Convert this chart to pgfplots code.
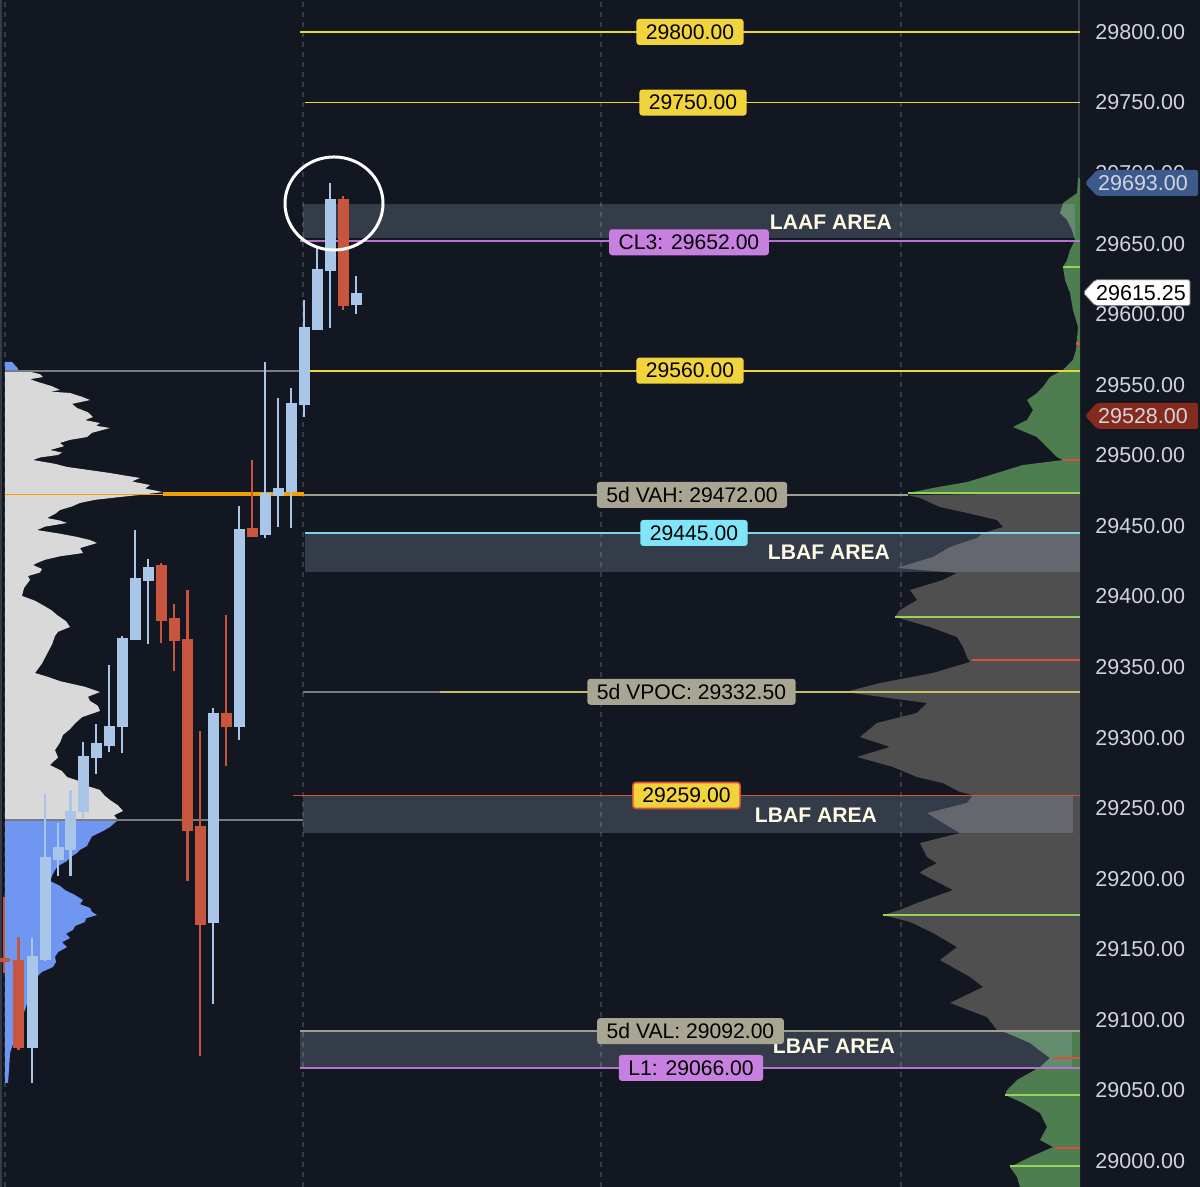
\documentclass[border=0pt]{standalone}
\usepackage{fontspec}
\setmainfont{Liberation Sans}
\usepackage{pgfplots}
\pgfplotsset{compat=1.18}
\definecolor{bg}{HTML}{131722}
\definecolor{gridc}{HTML}{363A45}
\definecolor{cblue}{HTML}{A9C5E8}
\definecolor{cred}{HTML}{C8553D}
\definecolor{lgray}{HTML}{D9D9D9}
\definecolor{lblue}{HTML}{6F97F2}
\definecolor{rgreen}{HTML}{4E7D50}
\definecolor{rgray}{HTML}{4F4F4F}
\definecolor{areac}{HTML}{B0C0D8}
\definecolor{ylw}{HTML}{F1D43B}
\definecolor{vio}{HTML}{C880E0}
\definecolor{viol}{HTML}{B673D0}
\definecolor{khaki}{HTML}{A8A693}
\definecolor{khakil}{HTML}{A09E90}
\definecolor{cyanb}{HTML}{80E5F8}
\definecolor{cyanl}{HTML}{7ED4E6}
\definecolor{glin}{HTML}{95D35A}
\definecolor{rlin}{HTML}{D9503A}
\definecolor{orng}{HTML}{F0A000}
\definecolor{slate}{HTML}{787B86}
\definecolor{cream}{HTML}{FFFBE4}
\definecolor{ticktxt}{HTML}{D1D4DC}
\definecolor{tagblue}{HTML}{3D5A8C}
\definecolor{tagred}{HTML}{842B1D}
\definecolor{vpocl}{HTML}{C8BC6A}
\newcommand{\lblfont}{\fontsize{10.6}{12}\selectfont}
\newcommand{\areafont}{\fontsize{10.6}{12}\selectfont\bfseries}
\newcommand{\candle}[6]{%
  \addplot[#6, line width=1.2bp, line cap=butt, forget plot] coordinates {(#1,#4) (#1,#3)};%
  \addplot[#6, line width=5.5bp, line cap=butt, forget plot] coordinates {(#1,#2) (#1,#5)};%
}
\begin{document}
\begin{tikzpicture}
\fill[bg] (0,0) rectangle (600bp,593.5bp);
\begin{axis}[
  at={(0,0)}, anchor=south west, scale only axis,
  width=540bp, height=593.5bp,
  xmin=0, xmax=1080, ymin=28981.58, ymax=29822.68,
  axis line style={draw=none}, major tick length=0pt,
  xtick=\empty, scaled y ticks=false, scaled x ticks=false,
  ytick={29000,29050,29100,29150,29200,29250,29300,29350,29400,29450,29500,29550,29600,29650,29700,29750,29800},
  yticklabels={29000.00,29050.00,29100.00,29150.00,29200.00,29250.00,29300.00,29350.00,29400.00,29450.00,29500.00,29550.00,29600.00,29650.00,29700.00,29750.00,29800.00},
  yticklabel pos=right,
  yticklabel style={anchor=west, xshift=7.5bp, inner sep=0pt, text=ticktxt, font=\fontsize{10.8}{12}\selectfont},
]
% grid
\addplot[gridc, line width=0.6bp, dash pattern=on 2.5bp off 2.5bp] coordinates {(5,28981.58) (5,29822.68)};
\addplot[gridc, line width=0.6bp, dash pattern=on 2.5bp off 2.5bp] coordinates {(303,28981.58) (303,29822.68)};
\addplot[gridc, line width=0.6bp, dash pattern=on 2.5bp off 2.5bp] coordinates {(601,28981.58) (601,29822.68)};
\addplot[gridc, line width=0.6bp, dash pattern=on 2.5bp off 2.5bp] coordinates {(901,28981.58) (901,29822.68)};
\addplot[gridc, line width=1bp] coordinates {(1,28981.58) (1,29822.68)};
\addplot[gridc, line width=1bp] coordinates {(1079,28981.58) (1079,29822.68)};
% left profile
\addplot[fill=lblue, draw=none] coordinates {(5,29566.2) (12,29566.2) (18,29561.5) (18,29559.8) (5,29559.8)};
\addplot[fill=lgray, draw=none] coordinates {(5,29559.8) (27,29559.8) (40,29557.5) (43,29555.5) (30,29554) (38,29552.0) (52,29549) (60,29546.3) (50,29545.2) (70,29544.2) (82,29541.5) (90,29539.2) (72,29536.5) (77,29533.6) (88,29530.5) (93,29527.2) (85,29525) (100,29522.9) (96,29521) (110,29519.4) (92,29516) (87,29513.0) (70,29511) (60,29508.8) (64,29506.5) (50,29503.8) (62,29502) (58,29500.3) (40,29498.5) (33,29496.7) (55,29494) (67,29491.8) (90,29489.5) (110,29487.5) (125,29485.7) (140,29484.0) (132,29481.5) (150,29479.0) (145,29476.5) (163,29474.0) (140,29472) (120,29470.5) (95,29468.5) (80,29466.3) (72,29463.8) (60,29461.3) (55,29458.5) (47,29455.6) (60,29453.8) (67,29452.1) (45,29449.5) (37,29447.1) (60,29444.5) (77,29442.2) (90,29440) (97,29437.9) (80,29434.3) (83,29430.8) (60,29428.5) (45,29426) (38,29424) (33,29422.3) (42,29419.5) (40,29417) (28,29414.5) (30,29411.7) (24,29406) (22,29400.4) (35,29397) (45,29393) (52,29390) (57,29386.9) (66,29382.5) (70,29378.4) (58,29375) (55,29372) (52,29366) (47,29359.3) (42,29352.5) (35,29345.8) (48,29343) (60,29340) (85,29336) (100,29332.3) (88,29329) (90,29326) (98,29322.5) (100,29318.9) (82,29314.5) (75,29310) (70,29306) (63,29301.9) (60,29296.5) (55,29291.2) (58,29286) (50,29280.6) (62,29276.3) (67,29272.1) (80,29269) (85,29266) (93,29264.5) (100,29262.9) (104,29259.3) (110,29255.8) (118,29252) (123,29248.0) (114,29245) (118,29241.6) (5,29241.6)};
\addplot[fill=lblue, draw=none] coordinates {(5,29241.6) (118,29241.6) (110,29236.7) (103,29233.8) (92,29230) (90,29227.5) (87,29223.2) (80,29220.5) (77,29218.2) (70,29215) (67,29212.6) (58,29209) (55,29206.2) (52,29202) (50,29198.4) (60,29195) (65,29192.0) (75,29188.5) (83,29184.9) (80,29182) (90,29179.3) (92,29176.5) (97,29174.3) (86,29172) (85,29169.4) (75,29166.5) (73,29163.7) (66,29161) (70,29158.0) (62,29155) (67,29151.6) (58,29148) (55,29144.6) (56,29141) (53,29137.5) (42,29134) (37,29130.4) (36,29126) (33,29121.2) (28,29114) (25,29107.0) (20,29100) (18,29092.8) (14,29085) (10,29076.5) (9,29064.5) (8,29055.3) (5,29055.3)};
% right profile
\addplot[fill=rgreen, draw=none] coordinates {(1080,29696.5) (1078,29696.5) (1077,29685.9) (1063,29678.8) (1060,29671.7) (1067,29666.8) (1072,29659.7) (1075,29652.6) (1070,29645.5) (1067,29638.4) (1063,29633.5) (1065,29624.3) (1070,29615.1) (1073,29603.0) (1078,29591.0) (1076,29575) (1073,29567.6) (1063,29560.5) (1050,29555.5) (1043,29548.5) (1037,29544.2) (1027,29539.2) (1033,29532.2) (1027,29525.1) (1013,29520.1) (1037,29513.0) (1047,29505.9) (1057,29498.8) (1063,29496.7) (1023,29493.2) (997,29487.5) (967,29481.1) (933,29476.9) (908,29473.3) (1080,29473.3)};
\addplot[fill=rgray, draw=none] coordinates {(1080,29473.3) (907,29471.9) (920,29469.8) (940,29463.4) (967,29459.2) (997,29454.2) (1003,29449.2) (983,29445.0) (977,29441.5) (950,29435.1) (933,29428.0) (897,29420.2) (957,29416.7) (943,29411.7) (910,29404.6) (917,29397.5) (900,29390.4) (895,29385.5) (930,29378.4) (957,29371.3) (963,29364.2) (967,29357.1) (970,29353.6) (933,29345.8) (880,29338.7) (845,29332.3) (927,29324.5) (917,29317.5) (877,29310.4) (860,29300.4) (890,29293.4) (857,29286.3) (893,29279.2) (917,29272.1) (943,29267.8) (960,29261.5) (973,29259.3) (967,29253.7) (927,29246.6) (943,29239.5) (960,29232.4) (920,29225.3) (927,29215.4) (937,29211) (923,29206.2) (920,29204.1) (953,29192.0) (917,29182.8) (900,29177.9) (883,29174.3) (910,29169.4) (933,29161.6) (957,29151.6) (940,29142.4) (970,29130.4) (983,29123.3) (950,29112.0) (987,29102.0) (997,29092.8) (1080,29092.8)};
\addplot[fill=rgreen, draw=none] coordinates {(1080,29092.8) (1000,29092.1) (1007,29090.7) (1030,29083.6) (1043,29076.5) (1050,29073.0) (1040,29066.6) (1017,29057.4) (1007,29050.3) (1005,29046.8) (1023,29041.1) (1040,29034.0) (1047,29024.1) (1040,29014.9) (1053,29009.9) (1030,29002.8) (1010,28995.7) (1017,28988.7) (1020,28981.6) (1080,28981.6)};
% area rectangles
\addplot[fill=areac, fill opacity=0.22, draw=none] coordinates {(303,29678.1) (1075,29678.1) (1075,29654.0) (303,29654.0)};
\addplot[fill=areac, fill opacity=0.22, draw=none] coordinates {(305,29445.0) (1080,29445.0) (1080,29417.4) (305,29417.4)};
\addplot[fill=areac, fill opacity=0.22, draw=none] coordinates {(303,29259.3) (1073,29259.3) (1073,29232.4) (303,29232.4)};
\addplot[fill=areac, fill opacity=0.22, draw=none] coordinates {(300,29092.1) (1072,29092.1) (1072,29065.9) (300,29065.9)};
% profile marker lines
\addplot[glin, line width=1bp] coordinates {(1063,29633.5) (1080,29633.5)};
\addplot[glin, line width=1bp] coordinates {(908,29473.3) (1080,29473.3)};
\addplot[glin, line width=1bp] coordinates {(895,29385.5) (1080,29385.5)};
\addplot[glin, line width=1bp] coordinates {(883,29174.3) (1080,29174.3)};
\addplot[glin, line width=1bp] coordinates {(1005,29046.8) (1080,29046.8)};
\addplot[glin, line width=1bp] coordinates {(1010,28996.5) (1080,28996.5)};
\addplot[rlin, line width=1bp] coordinates {(1063,29496.7) (1080,29496.7)};
\addplot[rlin, line width=1bp] coordinates {(972,29355.0) (1080,29355.0)};
\addplot[rlin, line width=1bp] coordinates {(1053,29073.0) (1080,29073.0)};
\addplot[rlin, line width=1bp] coordinates {(1055,29009.2) (1080,29009.2)};
\addplot[rlin, line width=1.5bp] coordinates {(1076,29579.6) (1080,29579.6)};
% level lines
\addplot[ylw, line width=0.9bp] coordinates {(300,29800) (1080,29800)};
\addplot[ylw, line width=0.9bp] coordinates {(305,29750) (1080,29750)};
\addplot[viol, line width=0.9bp] coordinates {(300,29652) (1080,29652)};
\addplot[slate, line width=0.8bp] coordinates {(5,29559.8) (303,29559.8)};
\addplot[ylw, line width=0.9bp] coordinates {(303,29560) (1080,29560)};
\addplot[orng, line width=0.6bp] coordinates {(5,29472.5) (163,29472.5)};
\addplot[orng, line width=1.8bp] coordinates {(163,29472.5) (304,29472.5)};
\addplot[khakil, line width=0.9bp] coordinates {(304,29472) (908,29472)};
\addplot[cyanl, line width=0.9bp] coordinates {(305,29445) (1080,29445)};
\addplot[slate, line width=0.9bp] coordinates {(303,29332.5) (440,29332.5)};
\addplot[vpocl, line width=0.9bp] coordinates {(440,29332.5) (1080,29332.5)};
\addplot[rlin, line width=0.9bp] coordinates {(293,29259) (1080,29259)};
\addplot[slate, line width=0.8bp] coordinates {(5,29241.6) (303,29241.6)};
\addplot[khakil, line width=0.9bp] coordinates {(300,29092) (1080,29092)};
\addplot[viol, line width=0.9bp] coordinates {(300,29066) (1080,29066)};
% candles: x, open, high, low, close, colour
\candle{4}{29143.8}{29187.1}{29133.2}{29141.0}{cred}
\candle{18.5}{29142.4}{29158.7}{29078.7}{29080.1}{cred}
\candle{32}{29080.1}{29158.0}{29055.3}{29145.3}{cblue}
\candle{45}{29142.4}{29260.1}{29141.7}{29215.4}{cblue}
\candle{58}{29213.3}{29239.5}{29202.0}{29222.5}{cblue}
\candle{70.5}{29220.4}{29262.9}{29202.0}{29248.0}{cblue}
\candle{83}{29247.3}{29296.9}{29243.0}{29287.0}{cblue}
\candle{96}{29285.6}{29309.7}{29274.2}{29296.2}{cblue}
\candle{109}{29294.1}{29351.5}{29289.8}{29308.2}{cblue}
\candle{122}{29307.5}{29372.0}{29289.1}{29370.6}{cblue}
\candle{135}{29369.2}{29447.1}{29369.0}{29413.1}{cblue}
\candle{148}{29411.0}{29426.6}{29366.3}{29420.9}{cblue}
\candle{161}{29422.3}{29423.7}{29367.1}{29382.6}{cred}
\candle{174}{29384.8}{29394.7}{29347.2}{29368.5}{cred}
\candle{187.5}{29369.9}{29404.6}{29198.4}{29233.8}{cred}
\candle{200}{29237.4}{29304.7}{29074.4}{29167.2}{cred}
\candle{213}{29168.6}{29321.0}{29111.3}{29317.5}{cblue}
\candle{226}{29317.5}{29386.9}{29279.9}{29307.5}{cred}
\candle{239}{29307.5}{29464.1}{29298.3}{29447.8}{cblue}
\candle{252}{29448.5}{29496.7}{29442.2}{29442.2}{cred}
\candle{265}{29443.6}{29566.2}{29441.5}{29473.3}{cblue}
\candle{278}{29471.2}{29540.7}{29449.2}{29476.9}{cblue}
\candle{291}{29474.0}{29547.7}{29448.5}{29537.1}{cblue}
\candle{304}{29535.7}{29610.1}{29527.2}{29591.0}{cblue}
\candle{317}{29588.8}{29646.9}{29588.8}{29632.1}{cblue}
\candle{330}{29630.6}{29693.0}{29590.3}{29681.7}{cblue}
\candle{343}{29681.7}{29683.8}{29603.0}{29605.8}{cred}
\candle{356}{29606.6}{29627.1}{29600.2}{29615.25}{cblue}
% circle
\draw[white, line width=1.5bp] (axis cs:334,29678.5) ellipse [x radius=24.5bp, y radius=23.25bp];
% area texts
\node[text=cream, font=\areafont] at (axis cs:831,29665.4) {LAAF AREA};
\node[text=cream, font=\areafont] at (axis cs:829,29431.5) {LBAF AREA};
\node[text=cream, font=\areafont] at (axis cs:816,29245.2) {LBAF AREA};
\node[text=cream, font=\areafont] at (axis cs:834,29081.5) {LBAF AREA};
% level label boxes
\tikzset{lbox/.style={rounded corners=1.5bp, inner xsep=4.8bp, inner ysep=0pt, minimum height=13bp, text=black, font=\lblfont}}
\node[lbox, fill=ylw] at (axis cs:690,29800) {29800.00};
\node[lbox, fill=ylw] at (axis cs:693,29750) {29750.00};
\node[lbox, fill=vio] at (axis cs:689,29651) {CL3: 29652.00};
\node[lbox, fill=ylw] at (axis cs:690,29560) {29560.00};
\node[lbox, fill=khaki] at (axis cs:692,29472) {5d VAH: 29472.00};
\node[lbox, fill=cyanb] at (axis cs:694,29445) {29445.00};
\node[lbox, fill=khaki] at (axis cs:691.5,29332.5) {5d VPOC: 29332.50};
\node[lbox, fill=ylw, draw=rlin, line width=0.8bp] at (axis cs:686.5,29259) {29259.00};
\node[lbox, fill=khaki] at (axis cs:690.5,29092) {5d VAL: 29092.00};
\node[lbox, fill=vio] at (axis cs:691,29066) {L1: 29066.00};
\coordinate (tA) at (axis cs:1080,29693);
\coordinate (tB) at (axis cs:1080,29615.25);
\coordinate (tC) at (axis cs:1080,29528);
\end{axis}
% price tags on the scale
\fill[tagblue, rounded corners=1bp, shift={(tA)}] (2.5bp,0) -- (8.5bp,6.5bp) -- (59bp,6.5bp) -- (59bp,-6.5bp) -- (8.5bp,-6.5bp) -- cycle;
\node[text=ticktxt, font=\fontsize{10.8}{12}\selectfont, inner sep=0pt] at ([xshift=31.5bp]tA) {29693.00};
\filldraw[fill=white, draw=black!60, line width=0.4bp, rounded corners=1bp, shift={(tB)}] (1.5bp,0) -- (7.5bp,6.5bp) -- (55bp,6.5bp) -- (55bp,-6.5bp) -- (7.5bp,-6.5bp) -- cycle;
\node[text=black, font=\fontsize{10.8}{12}\selectfont, inner sep=0pt] at ([xshift=30.5bp]tB) {29615.25};
\fill[tagred, rounded corners=1bp, shift={(tC)}] (2.5bp,0) -- (8.5bp,6.5bp) -- (59bp,6.5bp) -- (59bp,-6.5bp) -- (8.5bp,-6.5bp) -- cycle;
\node[text=ticktxt, font=\fontsize{10.8}{12}\selectfont, inner sep=0pt] at ([xshift=31.5bp]tC) {29528.00};
\pgfresetboundingbox
\path[use as bounding box] (0,0) rectangle (600bp,593.5bp);
\end{tikzpicture}
\end{document}
